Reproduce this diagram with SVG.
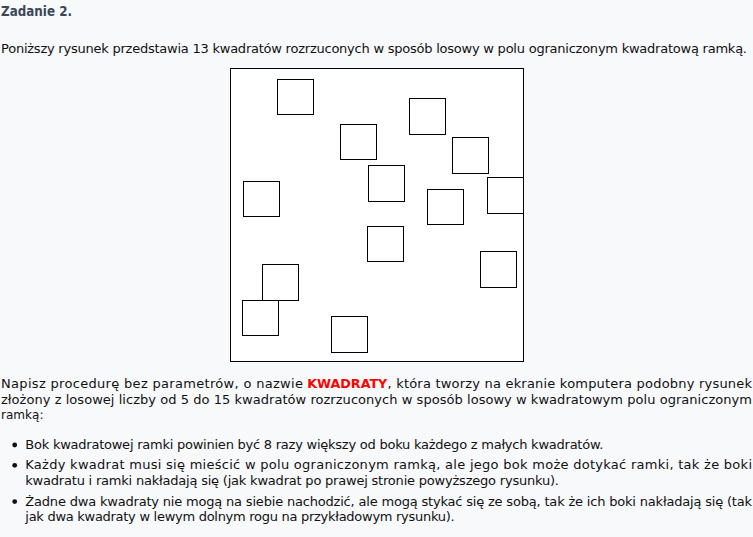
<svg xmlns="http://www.w3.org/2000/svg" width="753" height="537" viewBox="0 0 753 537">
<style>
text{font-family:"DejaVu Sans","Verdana","Liberation Sans",sans-serif;font-size:13px;fill:#111}
.t{font-weight:bold;font-size:14px;fill:#3b4758}
.r{font-weight:bold;fill:#f00}
.sq{fill:none;stroke:#000;stroke-width:1}
</style>
<rect width="753" height="537" fill="#f8f9fb"/>
<g id="text-top">
<text class="t" x="1" y="16" textLength="71" lengthAdjust="spacingAndGlyphs">Zadanie 2.</text>
<text x="1" y="52.5" textLength="746" lengthAdjust="spacing">Poniższy rysunek przedstawia 13 kwadratów rozrzuconych w sposób losowy w polu ograniczonym kwadratową ramką.</text>
</g>
<g id="frame">
<rect x="230.5" y="68.5" width="293" height="293" fill="#fff" stroke="#000" stroke-width="1"/>
</g>
<g id="squares">
<rect id="sq1" class="sq" x="277.5" y="79.5" width="36" height="35"/>
<rect id="sq2" class="sq" x="409.5" y="98.5" width="36" height="36"/>
<rect id="sq3" class="sq" x="340.5" y="124.5" width="36" height="35"/>
<rect id="sq4" class="sq" x="452.5" y="137.5" width="36" height="36"/>
<rect id="sq5" class="sq" x="368.5" y="165.5" width="36" height="36"/>
<rect id="sq6" class="sq" x="487.5" y="177.5" width="36" height="36"/>
<rect id="sq7" class="sq" x="427.5" y="189.5" width="36" height="35"/>
<rect id="sq8" class="sq" x="243.5" y="181.5" width="36" height="35"/>
<rect id="sq9" class="sq" x="367.5" y="226.5" width="36" height="35"/>
<rect id="sq10" class="sq" x="480.5" y="251.5" width="36" height="36"/>
<rect id="sq11" class="sq" x="262.5" y="264.5" width="36" height="36"/>
<rect id="sq12" class="sq" x="242.5" y="300.5" width="36" height="35"/>
<rect id="sq13" class="sq" x="331.5" y="316.5" width="36" height="36"/>
</g>
<g id="text-bottom">
<text x="1" y="388" textLength="302" lengthAdjust="spacing">Napisz procedurę bez parametrów, o nazwie</text>
<text class="r" x="307.3" y="388" textLength="80" lengthAdjust="spacingAndGlyphs">KWADRATY</text>
<text x="387.5" y="388" textLength="364.5" lengthAdjust="spacing">, która tworzy na ekranie komputera podobny rysunek</text>
<text x="1" y="403.5" textLength="751" lengthAdjust="spacing">złożony z losowej liczby od 5 do 15 kwadratów rozrzuconych w sposób losowy w kwadratowym polu ograniczonym</text>
<text x="1" y="419" textLength="42.5" lengthAdjust="spacingAndGlyphs">ramką:</text>
<circle cx="14.7" cy="445" r="2.4" fill="#111"/>
<text x="25.3" y="448.7" textLength="578" lengthAdjust="spacing">Bok kwadratowej ramki powinien być 8 razy większy od boku każdego z małych kwadratów.</text>
<circle cx="14.7" cy="465.3" r="2.4" fill="#111"/>
<text x="25.3" y="469" textLength="726.7" lengthAdjust="spacing">Każdy kwadrat musi się mieścić w polu ograniczonym ramką, ale jego bok może dotykać ramki, tak że boki</text>
<text x="25.3" y="484.7" textLength="533.7" lengthAdjust="spacing">kwadratu i ramki nakładają się (jak kwadrat po prawej stronie powyższego rysunku).</text>
<circle cx="14.7" cy="501.6" r="2.4" fill="#111"/>
<text x="25.3" y="505.5" textLength="726.7" lengthAdjust="spacing">Żadne dwa kwadraty nie mogą na siebie nachodzić, ale mogą stykać się ze sobą, tak że ich boki nakładają się (tak</text>
<text x="25.3" y="521" textLength="429.4" lengthAdjust="spacing">jak dwa kwadraty w lewym dolnym rogu na przykładowym rysunku).</text>
</g>
</svg>
